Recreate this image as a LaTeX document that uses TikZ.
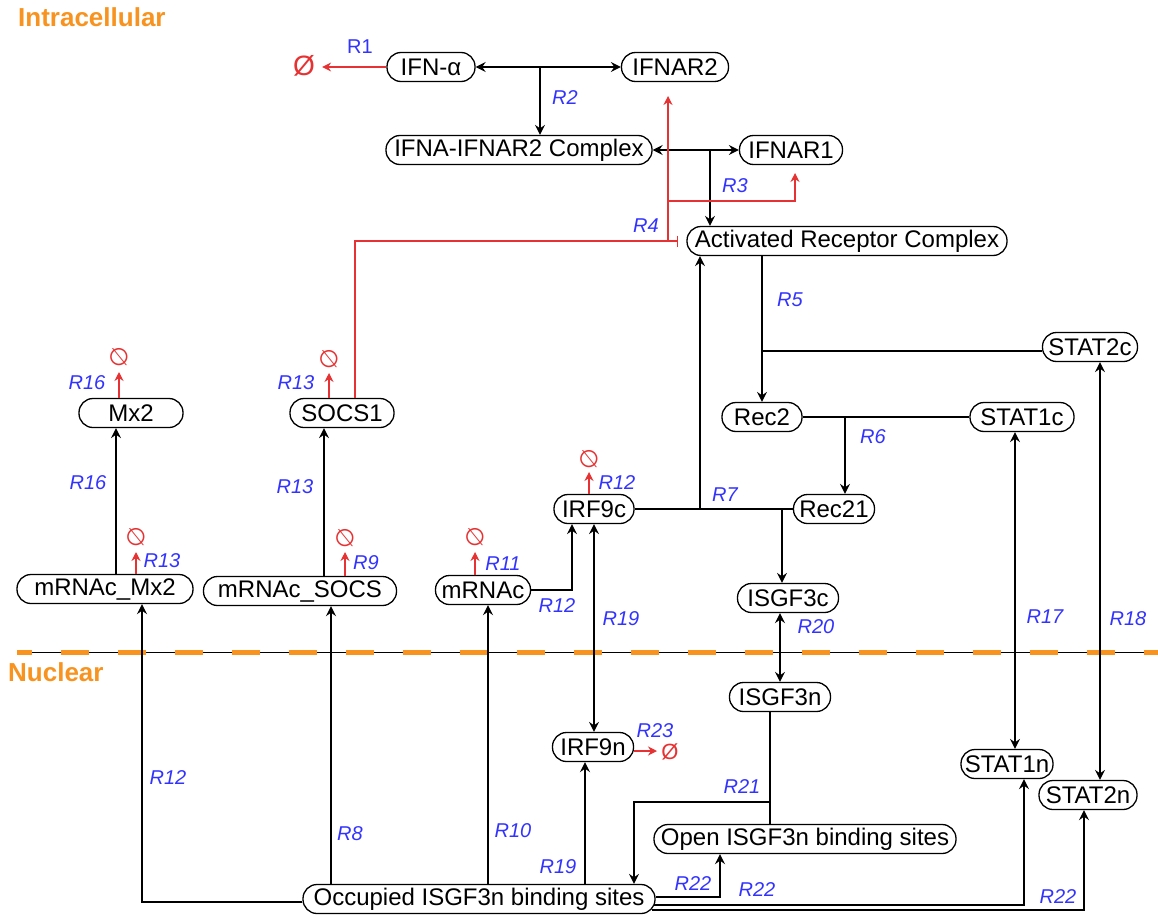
\documentclass[tikz,border=0pt]{standalone}
\usepackage{fontspec}
\usepackage{graphicx}
\setmainfont{Liberation Sans}
\newfontfamily\djv{DejaVu Sans}
\usetikzlibrary{arrows.meta}
\definecolor{lblue}{RGB}{51,51,255}
\definecolor{dred}{RGB}{230,50,50}
\definecolor{orng}{RGB}{247,147,30}
\tikzset{
 sp/.style={draw, line width=1.3pt, fill=white, rounded corners=14pt, minimum height=29pt, inner sep=0pt, font=\fontsize{24}{28}\selectfont},
 lbl/.style={text=lblue, font=\fontsize{20}{24}\selectfont\itshape, inner sep=0pt},
 ln/.style={line width=1.3pt, black},
 arr/.style={ln, -{Stealth[length=10pt,width=10pt,inset=3.5pt]}},
 dbl/.style={ln, {Stealth[length=10pt,width=10pt,inset=3.5pt]}-{Stealth[length=10pt,width=10pt,inset=3.5pt]}},
 rln/.style={line width=1.3pt, dred},
 rarr/.style={rln, -{Stealth[length=9pt,width=9pt,inset=3pt]}},
 nul/.style={text=dred, font=\djv\fontsize{24}{26}\selectfont, inner sep=0pt},
 bignul/.style={text=dred, font=\fontsize{28}{32}\selectfont, inner sep=0pt},
 zonelbl/.style={text=orng, font=\fontsize{26}{30}\selectfont\bfseries, inner sep=0pt},
}
\begin{document}
\begin{tikzpicture}[x=1pt,y=-1pt]
\useasboundingbox (0,0) rectangle (1158,915);
\fill[white] (0,0) rectangle (1158,915);

% divider
\draw[line width=1pt] (17,652) -- (1158,652);
\draw[orng, line width=5pt, dash pattern=on 28pt off 29pt, dash phase=13pt] (17,652) -- (1158,652);

\node[zonelbl, anchor=west] (intra) at (18,17) {Intracellular};
\node[zonelbl, anchor=west] (nuc) at (8,672) {Nuclear};

% species
\node[sp, minimum width=88pt] (IFNa) at (431,67) {IFN-α};
\node[sp, minimum width=107pt] (IFNAR2) at (675,67) {IFNAR2};
\node[sp, minimum width=266pt] (IFNAcx) at (519,150) {IFNA-IFNAR2 Complex};
\node[sp, minimum width=103pt] (IFNAR1) at (791,150) {IFNAR1};
\node[sp, minimum width=320pt] (ARC) at (847,241) {Activated Receptor Complex};
\node[sp, minimum width=95pt] (STAT2c) at (1090,347) {STAT2c};
\node[sp, minimum width=80pt] (Rec2) at (762,417) {Rec2};
\node[sp, minimum width=104pt] (STAT1c) at (1022,417) {STAT1c};
\node[sp, minimum width=81pt] (Rec21) at (834,509) {Rec21};
\node[sp, minimum width=80pt] (IRF9c) at (594,509) {IRF9c};
\node[sp, minimum width=101pt] (ISGF3c) at (788,598) {ISGF3c};
\node[sp, minimum width=176pt] (mRNAcMx2) at (105,589) {mRNAc\_Mx2};
\node[sp, minimum width=193pt] (mRNAcSOCS) at (300,591) {mRNAc\_SOCS};
\node[sp, minimum width=95pt] (mRNAc) at (483,590) {mRNAc};
\node[sp, minimum width=104pt] (Mx2) at (131,413) {Mx2};
\node[sp, minimum width=104pt] (SOCS1) at (342,413) {SOCS1};
\node[sp, minimum width=101pt] (ISGF3n) at (780,697) {ISGF3n};
\node[sp, minimum width=81pt] (IRF9n) at (593,747) {IRF9n};
\node[sp, minimum width=302pt] (Open) at (805,839) {Open ISGF3n binding sites};
\node[sp, minimum width=352pt] (Occ) at (479,899) {Occupied ISGF3n binding sites};
\node[sp, minimum width=92pt] (STAT1n) at (1007,764) {STAT1n};
\node[sp, minimum width=98pt] (STAT2n) at (1088,795) {STAT2n};

% R1
\node[bignul] (z1) at (304,66) {Ø};
\draw[rarr] (IFNa.west) -- ([xshift=7pt]z1.east |- IFNa.west);
\node[lbl, font=\fontsize{20}{24}\selectfont] (l1) at (360,47) {R1};

% R2
\draw[dbl] (IFNa.east) -- (IFNAR2.west);
\coordinate (c2) at (540,67);
\draw[arr] (c2) -- (c2 |- IFNAcx.north);
\node[lbl] (l2) at (565,98) {R2};

% R3
\draw[dbl] (IFNAcx.east) -- (IFNAR1.west);
\coordinate (c3) at (710,150);
\draw[arr] (c3) -- (c3 |- ARC.north);
\node[lbl] (l3) at (735,186) {R3};

% R4
\coordinate (c4) at (668,241);
\coordinate (c4t) at (668,96);
\coordinate (c4b) at (668,201);
\coordinate (c4r) at (795,173);
\draw[rarr] (c4) -- (c4t);
\draw[rarr] (c4b) -| (c4r);
\draw[rln, -{Bar[width=11pt]}] ([xshift=13pt]SOCS1.north) |- ([xshift=-8pt]ARC.west);
\node[lbl] (l4) at (646,226) {R4};

% R5
\draw[arr] ([xshift=-85pt]ARC.south) -- (Rec2.north);
\coordinate (c5) at (762,351);
\draw[ln] (c5) -- (c5 -| STAT2c.west);
\node[lbl] (l5) at (790,300) {R5};

% R6
\draw[ln] (Rec2.east) -- (STAT1c.west);
\coordinate (c6) at (845,417);
\draw[arr] (c6) -- (c6 |- Rec21.north);
\node[lbl] (l6) at (873,437) {R6};

% R7
\draw[ln] (IRF9c.east) -- (Rec21.west);
\coordinate (c7a) at (700,509);
\coordinate (c7b) at (782,509);
\draw[arr] (c7a) -- (c7a |- ARC.south);
\draw[arr] (c7b) -- (c7b |- ISGF3c.north);
\node[lbl] (l7) at (725,495) {R7};

% IRF9c degradation
\node[nul] (z2) at (589,459) {\reflectbox{∅}};
\draw[rarr] (z2 |- IRF9c.north) -- ([yshift=-13pt]z2.center);
\node[lbl] (l8) at (617,483) {R12};

% mRNAc -> IRF9c
\draw[arr] (mRNAc.east) -| ([xshift=-22pt]IRF9c.south);
\node[lbl] (l9) at (557,606) {R12};

% R19
\draw[dbl] ([xshift=1pt]IRF9n.north) -- ([xshift=1pt]IRF9n.north |- IRF9c.south);
\draw[arr] ([xshift=-8pt]IRF9n.south |- Occ.north) -- ([xshift=-8pt]IRF9n.south);
\node[lbl] (l10) at (621,619) {R19};
\node[lbl] (l11) at (558,867) {R19};

% R20
\draw[dbl] (ISGF3n.north) -- (ISGF3n.north |- ISGF3c.south);
\node[lbl] (l12) at (816,627) {R20};

% R21
\draw[ln] ([xshift=-10pt]ISGF3n.south) -- ([xshift=-10pt]ISGF3n.south |- Open.north);
\coordinate (c21) at (770,802);
\draw[arr] (c21) -| ([xshift=155pt]Occ.north);
\node[lbl] (l13) at (742,787) {R21};

% R22
\draw[arr] ([yshift=2pt]Occ.east) -| ([xshift=-85pt]Open.south);
\draw[arr] ([xshift=-2pt,yshift=-6pt]Occ.east) -| ([xshift=17pt]STAT1n.south);
\draw[arr] ([xshift=-4pt,yshift=-11pt]Occ.east) -| ([xshift=-4pt]STAT2n.south);
\node[lbl] (l14) at (693,884) {R22};
\node[lbl] (l15) at (757,890) {R22};
\node[lbl] (l16) at (1058,897) {R22};

% R23
\node[bignul, font=\fontsize{22}{26}\selectfont] (z3) at (670,752) {Ø};
\coordinate (c23) at (657,751);
\draw[rarr] ([yshift=-4pt]IRF9n.east) -- (c23);
\node[lbl] (l17) at (655,731) {R23};

% R17, R18
\draw[dbl] ([xshift=-7pt]STAT1c.south) -- ([xshift=-7pt]STAT1c.south |- STAT1n.north);
\draw[dbl] ([xshift=10pt]STAT2c.south) -- ([xshift=10pt]STAT2c.south |- STAT2n.north);
\node[lbl] (l18) at (1045,617) {R17};
\node[lbl] (l19) at (1128,619) {R18};

% Occupied -> mRNAs
\draw[arr] ([yshift=-3pt]Occ.west) -| ([xshift=37pt]mRNAcMx2.south);
\draw[arr] ([xshift=-148pt]Occ.north) -- ([xshift=-148pt]Occ.north |- mRNAcSOCS.south);
\draw[arr] ([xshift=5pt]mRNAc.south |- Occ.north) -- ([xshift=5pt]mRNAc.south);
\node[lbl] (l20) at (168,778) {R12};
\node[lbl] (l21) at (350,834) {R8};
\node[lbl] (l22) at (513,831) {R10};

% mRNA -> proteins
\draw[arr] ([xshift=11pt]mRNAcMx2.north) -- ([xshift=11pt]mRNAcMx2.north |- Mx2.south);
\draw[arr] ([xshift=24pt]mRNAcSOCS.north) -- ([xshift=24pt]mRNAcSOCS.north |- SOCS1.south);
\node[lbl] (l23) at (88,483) {R16};
\node[lbl] (l24) at (295,487) {R13};

% degradations
\node[nul] (z4) at (119,357) {\reflectbox{∅}};
\draw[rarr] (z4 |- Mx2.north) -- ([yshift=-15pt]z4.center);
\node[lbl] (l25) at (87,383) {R16};
\node[nul] (z5) at (329,359) {\reflectbox{∅}};
\draw[rarr] (z5 |- SOCS1.north) -- ([yshift=-14pt]z5.center);
\node[lbl] (l26) at (296,383) {R13};
\node[nul] (z6) at (136,537) {\reflectbox{∅}};
\draw[rarr] (z6 |- mRNAcMx2.north) -- ([yshift=-15pt]z6.center);
\node[lbl] (l27) at (162,561) {R13};
\node[nul] (z7) at (345,538) {\reflectbox{∅}};
\draw[rarr] (z7 |- mRNAcSOCS.north) -- ([yshift=-14pt]z7.center);
\node[lbl] (l28) at (366,563) {R9};
\node[nul] (z8) at (475,537) {\reflectbox{∅}};
\draw[rarr] (z8 |- mRNAc.north) -- ([yshift=-15pt]z8.center);
\node[lbl] (l29) at (503,564) {R11};
\end{tikzpicture}
\end{document}
